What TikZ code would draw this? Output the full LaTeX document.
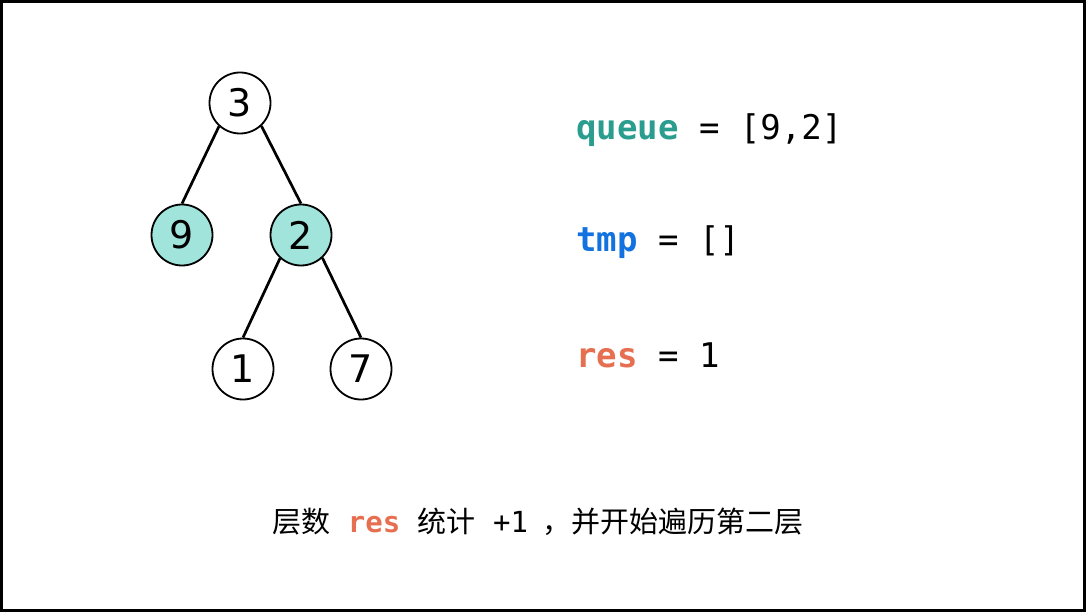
\documentclass[tikz,border=0pt]{standalone}
\usepackage{fontspec}
\setmainfont{DejaVu Sans}
\setmonofont{DejaVu Sans Mono}
\newfontfamily\cjk{Noto Sans CJK SC}
\definecolor{tealfill}{HTML}{A0E4DC}
\definecolor{qcol}{HTML}{2A9D8F}
\definecolor{tcol}{HTML}{1273E0}
\definecolor{rcol}{HTML}{E76F51}
\tikzset{
  tnode/.style={circle, draw=black, line width=1.8pt, minimum size=61pt, inner sep=0pt, font=\fontsize{38}{40}\selectfont, fill=white},
  hl/.style={fill=tealfill},
  edge/.style={line width=2.7pt},
  vartext/.style={anchor=west, inner sep=0pt, font=\ttfamily\fontsize{34}{36}\selectfont},
}
\begin{document}
\begin{tikzpicture}[x=1pt,y=-1pt]
\useasboundingbox (0,0) rectangle (1086,612);
\draw[line width=3.2pt] (1.6,1.6) rectangle (1084.4,610.4);
\node[tnode] (n3) at (240,103) {3};
\node[tnode,hl] (n9) at (182,235) {9};
\node[tnode,hl] (n2) at (301,235) {2};
\node[tnode] (n1) at (243,369) {1};
\node[tnode] (n7) at (361,369) {7};
\draw[edge] (n3.228) -- (n9.north);
\draw[edge] (n3.313) -- (n2.north);
\draw[edge] (n2.228) -- (n1.north);
\draw[edge] (n2.313) -- (n7.north);
\node[vartext] (q) at (576,130) {\textcolor{qcol}{\bfseries queue} = [9,2]};
\node[vartext] (t) at (576,242) {\textcolor{tcol}{\bfseries tmp} = []};
\node[vartext] (r) at (576,355) {\textcolor{rcol}{\bfseries res} = 1};
\node[inner sep=0pt] (cap) at (538,522) {\cjk\fontsize{29}{32}\selectfont 层数\hspace{0.6em}{\ttfamily\bfseries\textcolor{rcol}{res}}\hspace{0.6em}统计\hspace{0.6em}{\ttfamily +1}\hspace{0.5em}，并开始遍历第二层};
\end{tikzpicture}
\end{document}
